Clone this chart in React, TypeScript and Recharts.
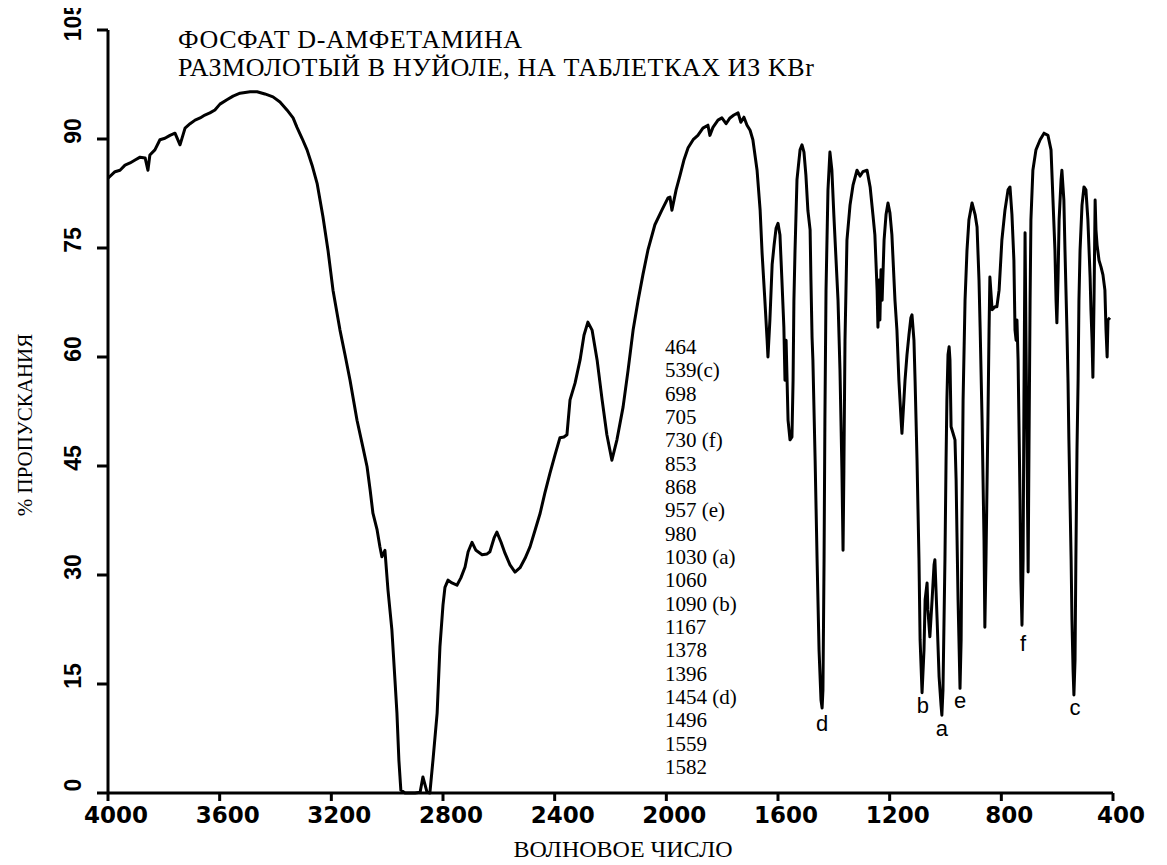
import React from "react";
import { LineChart, Line, XAxis, YAxis, ReferenceDot } from "recharts";

const wavenumbers = [
  4000, 3975, 3957, 3939, 3921, 3903, 3885, 3867, 3857, 3850,
  3832, 3814, 3796, 3778, 3760, 3742, 3724, 3706, 3688, 3670,
  3653, 3635, 3617, 3599, 3574, 3552, 3527, 3491, 3466, 3438,
  3409, 3384, 3359, 3337, 3323, 3305, 3287, 3269, 3251, 3230,
  3212, 3194, 3169, 3151, 3133, 3108, 3087, 3072, 3061, 3051,
  3036, 3026, 3019, 3008, 2997, 2983, 2972, 2965, 2958, 2951,
  2936, 2900, 2882, 2872, 2857, 2847, 2836, 2821, 2811, 2800,
  2793, 2782, 2768, 2750, 2736, 2721, 2710, 2696, 2682, 2660,
  2642, 2632, 2617, 2607, 2592, 2578, 2560, 2542, 2524, 2506,
  2488, 2470, 2452, 2435, 2417, 2399, 2381, 2367, 2356, 2345,
  2327, 2309, 2295, 2281, 2266, 2248, 2230, 2213, 2195, 2177,
  2155, 2137, 2119, 2101, 2084, 2066, 2041, 2016, 1994, 1987,
  1980, 1965, 1951, 1937, 1922, 1904, 1887, 1869, 1851, 1844,
  1833, 1815, 1801, 1786, 1772, 1758, 1743, 1733, 1722, 1711,
  1700, 1690, 1675, 1664, 1657, 1647, 1639, 1636, 1629, 1621,
  1614, 1607, 1600, 1593, 1586, 1579, 1575, 1571, 1564, 1557,
  1550, 1546, 1543, 1539, 1532, 1521, 1514, 1507, 1500, 1493,
  1485, 1482, 1478, 1475, 1467, 1460, 1453, 1446, 1442, 1439,
  1435, 1432, 1428, 1421, 1414, 1407, 1400, 1392, 1385, 1378,
  1371, 1367, 1364, 1360, 1353, 1342, 1331, 1317, 1306, 1296,
  1281, 1270, 1260, 1253, 1245, 1242, 1238, 1235, 1231, 1227,
  1220, 1213, 1206, 1199, 1192, 1181, 1174, 1167, 1159, 1156,
  1149, 1145, 1138, 1131, 1124, 1120, 1113, 1109, 1102, 1095,
  1091, 1084, 1077, 1073, 1066, 1063, 1056, 1048, 1041, 1038,
  1030, 1023, 1016, 1013, 1009, 1002, 998, 995, 991, 987,
  984, 980, 973, 966, 962, 959, 955, 948, 944, 941,
  937, 930, 923, 916, 905, 894, 887, 880, 876, 869,
  862, 859, 855, 848, 844, 841, 833, 823, 816, 808,
  798, 787, 776, 769, 762, 755, 751, 747, 744, 740,
  737, 733, 730, 726, 722, 719, 715, 712, 708, 704,
  701, 697, 694, 687, 676, 661, 647, 633, 622, 615,
  608, 604, 601, 597, 593, 586, 583, 576, 572, 565,
  561, 558, 554, 550, 547, 543, 540, 536, 533, 529,
  525, 522, 518, 511, 504, 497, 490, 482, 479, 475,
  472, 468, 464, 461, 457, 450, 443, 436, 429, 425,
  421, 418, 411,
];

// % transmittance at each wavenumber above
const transmittance = [
  84.6, 85.5, 85.7, 86.4, 86.7, 87.1, 87.5, 87.4, 85.7, 87.8,
  88.5, 89.9, 90.1, 90.5, 90.8, 89.2, 91.5, 92.1, 92.6, 92.9,
  93.3, 93.6, 94.0, 94.8, 95.4, 95.9, 96.3, 96.5, 96.5, 96.2,
  95.8, 95.1, 94.0, 92.9, 91.6, 90.1, 88.5, 86.4, 83.9, 79.3,
  74.7, 69.2, 63.7, 60.3, 56.8, 51.3, 47.6, 44.9, 41.7, 38.5,
  36.2, 33.9, 32.5, 33.4, 27.9, 22.4, 15.5, 11.0, 4.5, 0.4,
  0, 0, 0.1, 2.2, 0.1, 0, 4.5, 11.0, 20.1, 25.9,
  28.3, 29.3, 28.9, 28.6, 29.6, 31.1, 33.2, 34.5, 33.4, 32.8,
  32.9, 33.2, 35.1, 35.9, 34.5, 33.0, 31.4, 30.4, 31.0, 32.3,
  33.9, 36.2, 38.5, 41.3, 44.0, 46.5, 48.9, 49.0, 49.3, 54.1,
  56.4, 59.6, 63.0, 64.8, 63.7, 59.6, 54.1, 49.3, 45.8, 48.6,
  53.1, 58.2, 63.7, 67.8, 71.3, 74.7, 78.2, 80.2, 81.9, 82.0,
  80.2, 83.0, 85.0, 87.1, 88.8, 89.9, 90.5, 91.5, 91.9, 90.5,
  91.6, 92.6, 92.9, 92.1, 92.9, 93.3, 93.6, 92.3, 93.0, 91.9,
  91.2, 89.9, 85.7, 80.2, 74.3, 67.8, 62.3, 60.0, 65.1, 72.7,
  75.4, 77.7, 78.4, 76.8, 70.6, 64.1, 56.8, 62.3, 51.3, 48.6,
  49.0, 56.8, 67.8, 74.7, 84.4, 88.5, 89.2, 88.2, 85.0, 80.2,
  77.5, 70.6, 62.7, 59.6, 45.8, 32.1, 19.7, 12.8, 11.7, 14.2,
  32.1, 51.3, 69.2, 83.0, 88.2, 85.7, 79.6, 73.3, 67.8, 58.2,
  44.4, 33.4, 44.4, 62.3, 76.1, 80.9, 83.7, 85.7, 84.9, 85.5,
  85.7, 83.4, 79.6, 76.8, 69.2, 64.1, 70.6, 65.1, 72.0, 67.8,
  76.1, 79.6, 81.2, 79.8, 76.8, 67.8, 63.7, 56.8, 51.3, 49.5,
  54.1, 56.8, 60.3, 63.0, 65.4, 65.8, 62.3, 56.8, 45.8, 32.1,
  21.1, 13.8, 19.7, 26.6, 28.9, 25.2, 21.5, 26.6, 31.4, 32.1,
  23.8, 16.0, 12.1, 10.7, 14.2, 32.1, 45.8, 54.1, 60.3, 61.4,
  59.6, 50.4, 49.5, 48.6, 43.1, 35.8, 26.6, 14.4, 21.1, 37.6,
  54.1, 67.8, 74.7, 78.9, 81.2, 79.6, 77.9, 70.6, 64.1, 51.3,
  34.8, 22.8, 32.1, 51.3, 63.7, 71.0, 66.5, 66.9, 66.9, 69.2,
  76.1, 80.2, 83.0, 83.4, 79.6, 73.3, 63.7, 62.3, 65.1, 59.6,
  51.3, 40.3, 29.3, 23.1, 32.1, 54.1, 77.1, 63.7, 47.2, 30.4,
  47.2, 67.8, 78.9, 85.7, 88.5, 89.9, 90.8, 90.5, 88.5, 81.6,
  74.7, 67.8, 64.7, 70.6, 78.9, 84.4, 85.7, 81.6, 74.7, 63.7,
  56.4, 48.6, 40.3, 32.1, 23.8, 16.9, 13.5, 18.3, 32.1, 47.2,
  56.8, 67.8, 74.7, 80.9, 83.4, 83.0, 78.9, 71.0, 66.5, 62.3,
  57.2, 67.8, 81.6, 77.5, 75.4, 73.3, 72.4, 71.3, 69.2, 63.7,
  60.0, 65.1, 65.4,
];

const xTicks = [4000, 3600, 3200, 2800, 2400, 2000, 1600, 1200, 800, 400];
const yTicks = [0, 15, 30, 45, 60, 75, 90, 105];

const titleLines = ["ФОСФАТ D-АМФЕТАМИНА", "РАЗМОЛОТЫЙ В НУЙОЛЕ, НА ТАБЛЕТКАХ ИЗ KBr"];
const peakList = [
  "464", "539(c)", "698", "705", "730 (f)", "853", "868", "957 (e)", "980",
  "1030 (a)", "1060", "1090 (b)", "1167", "1378", "1396", "1454 (d)",
  "1496", "1559", "1582",
];

// letters under the marked bands
const bandLetters = ["d", "b", "a", "e", "f", "c"];
const bandWave = [1442, 1081, 1013, 948, 722, 536];
const bandLevel = [9.6, 12.1, 8.9, 12.8, 20.6, 11.8];

const data = wavenumbers.map((w, i) => ({ w, t: transmittance[i] }));

const serif = "'Liberation Serif', 'Times New Roman', serif";

// extra room above the plot so the rotated "105" is not clipped
const lift = 20;

const YTick = (props: any) => {
  const { x, y, payload } = props;
  const cx = x - 22;
  const cy = y - 8;
  return (
    <text
      x={cx}
      y={cy}
      transform={`rotate(-90 ${cx} ${cy})`}
      textAnchor="middle"
      dominantBaseline="central"
      fontFamily="'Liberation Sans', Arial, sans-serif"
      fontWeight="bold"
      fontSize={23}
      fill="#000"
    >
      {payload.value}
    </text>
  );
};

const XTick = (props: any) => {
  const { x, y, payload } = props;
  return (
    <text
      x={x + 8}
      y={y + 20}
      textAnchor="middle"
      fontFamily="'DejaVu Sans', sans-serif"
      fontWeight="bold"
      fontSize={23}
      fill="#000"
    >
      {payload.value}
    </text>
  );
};

const App: React.FC = () => {
  return (
    <div style={{ position: "relative", width: 1151, height: 857 + lift, marginTop: -lift }}>
      <LineChart
        width={1151}
        height={857 + lift}
        data={data}
        margin={{ top: 22 + lift, right: 46, left: 30, bottom: 32 }}
      >
        <XAxis
          dataKey="w"
          type="number"
          domain={[400, 4000]}
          reversed
          ticks={xTicks}
          interval={0}
          height={40}
          tickSize={8}
          axisLine={{ stroke: "#000", strokeWidth: 3 }}
          tickLine={{ stroke: "#000", strokeWidth: 3 }}
          tick={<XTick />}
        />
        <YAxis
          type="number"
          domain={[0, 105]}
          ticks={yTicks}
          interval={0}
          width={70}
          tickSize={11}
          axisLine={{ stroke: "#000", strokeWidth: 3 }}
          tickLine={{ stroke: "#000", strokeWidth: 3 }}
          tick={<YTick />}
        />
        <Line
          dataKey="t"
          type="linear"
          stroke="#000"
          strokeWidth={3}
          strokeLinejoin="round"
          dot={false}
          isAnimationActive={false}
        />
        {bandLetters.map((letter, i) => (
          <ReferenceDot
            key={letter}
            x={bandWave[i]}
            y={bandLevel[i]}
            r={0}
            fill="none"
            stroke="none"
            label={{
              value: letter,
              position: "center",
              fill: "#000",
              fontSize: 22,
              fontFamily: "'Liberation Sans', Arial, sans-serif",
            }}
          />
        ))}
      </LineChart>
      <svg
        width={1151}
        height={857}
        style={{ position: "absolute", left: 0, top: lift, pointerEvents: "none" }}
      >
        {titleLines.map((line, i) => (
          <text
            key={line}
            x={170}
            y={40 + i * 28}
            fontFamily={serif}
            fontSize={26}
            letterSpacing={0.6}
            fill="#000"
          >
            {line}
          </text>
        ))}
        {peakList.map((p, i) => (
          <text key={p} x={657} y={346 + i * 23.33} fontFamily={serif} fontSize={21} fill="#000">
            {p}
          </text>
        ))}
        <text
          x={17}
          y={417}
          transform="rotate(-90 17 417)"
          textAnchor="middle"
          dominantBaseline="central"
          fontFamily={serif}
          fontSize={21}
          fill="#000"
        >
          % ПРОПУСКАНИЯ
        </text>
        <text x={615} y={849} textAnchor="middle" fontFamily={serif} fontSize={24} fill="#000">
          ВОЛНОВОЕ ЧИСЛО
        </text>
      </svg>
    </div>
  );
};

export default App;
